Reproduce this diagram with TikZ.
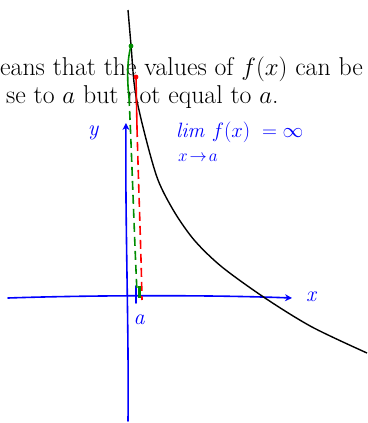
\documentclass[tikz,border=0pt]{standalone}
\usetikzlibrary{arrows.meta}
\begin{document}
\begin{tikzpicture}[x=1pt,y=-1pt,
  axis/.style={draw=blue,line width=1.6pt,line cap=round},
  curve/.style={draw=black,line width=1.4pt},
  redl/.style={draw=red,line width=1.6pt},
  greenl/.style={draw=green!55!black,line width=1.6pt},
  hand/.style={text=blue,font=\fontsize{22}{24}\selectfont\itshape},
  body/.style={font=\fontsize{25.8}{28}\selectfont,anchor=base west,inner sep=0pt}]
\useasboundingbox (0,0) rectangle (367,423);
% text lines
\node[body] (l1) at (0,75) {eans that the values of $f(x)$ can be};
\node[body] (l2) at (6,103) {se to $a$ but not equal to $a$.};
% axes
\coordinate (xs) at (8,298);
\coordinate (xe) at (292,298);
\coordinate (ys) at (128,421);
\coordinate (ye) at (126,123);
\draw[axis,-{Stealth[length=7pt,width=7pt]}] (xs) .. controls (80,295.5) and (200,294.5) .. (xe);
\draw[axis,-{Stealth[length=7pt,width=7pt]}] (ys) .. controls (129,330) and (125,220) .. (ye);
\node[hand] (ylab) at (93,133) {y};
\node[hand] (xlab) at (311,297) {x};
\node[hand] (alab) at (139,320) {a};
\coordinate (t1) at (136,286);
\coordinate (t2) at (136,303);
\draw[axis] (t1) -- (t2);
% limit label
\node[text=blue,anchor=west,inner sep=0pt] (lim) at (176,132)
  {\fontsize{20}{22}\selectfont$\mathit{lim}\ f(x)\ =\infty$};
\node[text=blue,anchor=west,inner sep=0pt] (sub) at (178,158)
  {\fontsize{16}{18}\selectfont$x\!\to\! a$};
% black curve
\draw[curve] plot[smooth,tension=0.5] coordinates {(128,10) (131,45) (135,90) (145,135) (158,180) (175,213) (195,241) (222,267) (265,298) (312,327) (367,353)};
% red path
\coordinate (rtop) at (136,77);
\coordinate (rmid) at (137,128);
\coordinate (rbot) at (142,300);
\fill[red] (rtop) circle (2.4pt);
\draw[redl] (rtop) -- (rmid);
\draw[redl,dash pattern=on 9pt off 5pt] (rmid) .. controls (139,200) and (141,250) .. (rbot);
% green path
\coordinate (gtop) at (131,46);
\coordinate (gmid) at (129,97);
\coordinate (gbot) at (137,292);
\fill[green!55!black] (gtop) circle (2.4pt);
\draw[greenl] (gtop) .. controls (127,60) and (127,80) .. (gmid);
\draw[greenl,dash pattern=on 9pt off 5pt] (gmid) .. controls (132,160) and (134,230) .. (gbot);
\coordinate (gb1) at (139.5,286);
\coordinate (gb2) at (139.5,298);
\draw[green!55!black,line width=3pt] (gb1) -- (gb2);
\end{tikzpicture}
\end{document}
